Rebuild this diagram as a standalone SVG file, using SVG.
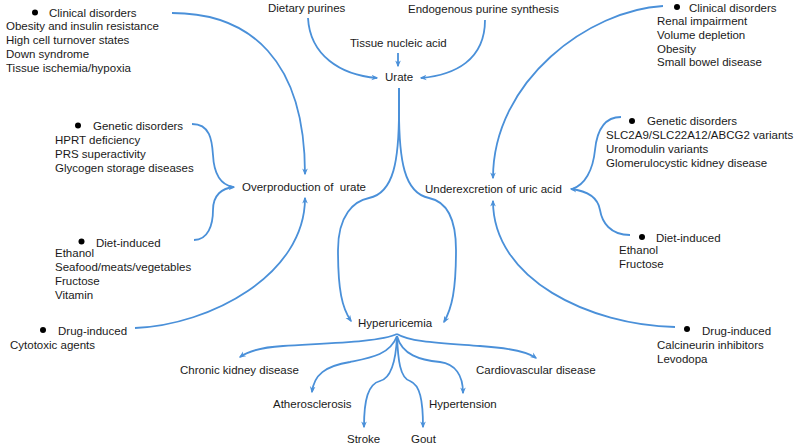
<svg xmlns="http://www.w3.org/2000/svg" width="800" height="447" viewBox="0 0 800 447">
<style>
text{font-family:"Liberation Sans",Arial,sans-serif;font-size:11.5px;fill:#1a1a1a}
.c{fill:none;stroke:#4a90d9;stroke-width:1.8;marker-end:url(#ah)}
.n{fill:none;stroke:#4a90d9;stroke-width:1.8}
.b{fill:#000}
</style>
<defs>
<marker id="ah" viewBox="0 0 10 10" refX="8" refY="5" markerWidth="7" markerHeight="7" markerUnits="userSpaceOnUse" orient="auto">
<path d="M0,1 L10,5 L0,9 L3,5 Z" fill="#4a90d9"/>
</marker>
</defs>
<rect width="800" height="447" fill="#fff"/>
<g id="connectors">
<path class="c" d="M308,18 C310,55 340,75 377,78"/>
<path class="c" d="M485,20 C485,60 455,75 421,78"/>
<path class="c" d="M398,53 L398,66"/>
<path class="c" d="M399,88 L399,110 C399,160 394,193 369,198 C354,201 338,215 338,250 C338,290 342,308 351,321"/>
<path class="c" d="M399,88 L399,110 C399,160 404,193 429,198 C444,201 456,215 456,250 C456,290 452,308 444,322"/>
<path class="c" d="M172,13 C250,13 305,60 305,174"/>
<path class="c" d="M135,328 C210,325 305,275 305,198"/>
<path class="n" d="M192,124 C210,124 212,140 213,155 C214,175 222,185 233,187"/>
<path class="c" d="M194,240 C208,240 213,225 213,210 C213,195 222,188 234,187"/>
<path class="c" d="M663,6 C590,10 493,80 493,178"/>
<path class="c" d="M675,327 C590,325 493,280 493,201"/>
<path class="n" d="M621,117 C605,117 597,130 595,150 C593,170 585,185 572,189"/>
<path class="c" d="M630,235 C610,235 602,222 600,210 C598,198 588,191 571,189"/>
<path class="c" d="M397,334 C380,342 330,343 283,346 C265,347 250,350 240,357"/>
<path class="c" d="M397,336 C390,355 370,358 350,362 C325,366 314,375 312,392"/>
<path class="c" d="M397,336 C396,360 392,378 380,381 C368,384 364,400 364,427"/>
<path class="c" d="M397,336 C398,360 400,378 410,381 C420,385 423,400 423,427"/>
<path class="c" d="M397,336 C402,355 420,360 440,362 C455,364 463,375 463,393"/>
<path class="c" d="M397,334 C410,342 440,343 480,346 C510,348 528,352 536,358"/>
</g>
<g id="dietary-purines"><text x="268" y="12">Dietary purines</text></g>
<g id="endogenous"><text x="408" y="13">Endogenous purine synthesis</text></g>
<g id="tissue-nucleic"><text x="350" y="47">Tissue nucleic acid</text></g>
<g id="urate"><text x="385" y="81">Urate</text></g>
<g id="overproduction"><text x="242" y="191">Overproduction of&#160; urate</text></g>
<g id="underexcretion"><text x="425" y="193">Underexcretion of uric acid</text></g>
<g id="hyperuricemia"><text x="358" y="327">Hyperuricemia</text></g>
<g id="left-clinical">
<circle class="b" cx="35" cy="12.5" r="3"/>
<text x="49" y="16.5">Clinical disorders</text>
<text x="6" y="30">Obesity and insulin resistance</text>
<text x="6" y="44">High cell turnover states</text>
<text x="6" y="58">Down syndrome</text>
<text x="6" y="72">Tissue ischemia/hypoxia</text>
</g>
<g id="left-genetic">
<circle class="b" cx="78" cy="125.5" r="3"/>
<text x="93" y="130">Genetic disorders</text>
<text x="55" y="143.5">HPRT deficiency</text>
<text x="55" y="157.5">PRS superactivity</text>
<text x="55" y="171.5">Glycogen storage diseases</text>
</g>
<g id="left-diet">
<circle class="b" cx="81.5" cy="241.5" r="3"/>
<text x="96" y="246.5">Diet-induced</text>
<text x="55" y="256.5">Ethanol</text>
<text x="55" y="270.5">Seafood/meats/vegetables</text>
<text x="55" y="284.5">Fructose</text>
<text x="55" y="298.5">Vitamin</text>
</g>
<g id="left-drug">
<circle class="b" cx="43" cy="330" r="3"/>
<text x="58" y="335">Drug-induced</text>
<text x="10" y="348.5">Cytotoxic agents</text>
</g>
<g id="right-clinical">
<circle class="b" cx="677" cy="7" r="3"/>
<text x="689" y="11.5">Clinical disorders</text>
<text x="657" y="24.5">Renal impairment</text>
<text x="657" y="38.5">Volume depletion</text>
<text x="657" y="52.5">Obesity</text>
<text x="657" y="66">Small bowel disease</text>
</g>
<g id="right-genetic">
<circle class="b" cx="632" cy="121" r="3"/>
<text x="647" y="124.5">Genetic disorders</text>
<text x="606" y="138.5">SLC2A9/SLC22A12/ABCG2 variants</text>
<text x="606" y="152.5">Uromodulin variants</text>
<text x="606" y="166.5">Glomerulocystic kidney disease</text>
</g>
<g id="right-diet">
<circle class="b" cx="642" cy="237" r="3"/>
<text x="656" y="242">Diet-induced</text>
<text x="619" y="253.5">Ethanol</text>
<text x="619" y="267.5">Fructose</text>
</g>
<g id="right-drug">
<circle class="b" cx="687" cy="329" r="3"/>
<text x="702" y="335">Drug-induced</text>
<text x="657" y="348.5">Calcineurin inhibitors</text>
<text x="657" y="362.5">Levodopa</text>
</g>
<g id="ckd"><text x="180" y="373.5">Chronic kidney disease</text></g>
<g id="atherosclerosis"><text x="273" y="408">Atherosclerosis</text></g>
<g id="stroke"><text x="347" y="443">Stroke</text></g>
<g id="gout"><text x="411" y="443">Gout</text></g>
<g id="hypertension"><text x="429" y="408">Hypertension</text></g>
<g id="cvd"><text x="476" y="374">Cardiovascular disease</text></g>
</svg>
